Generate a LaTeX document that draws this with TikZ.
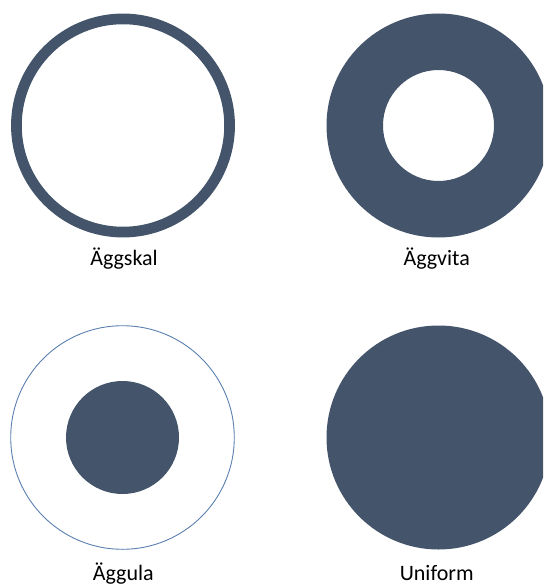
\documentclass[tikz,border=0pt]{standalone}
\usepackage{fontspec}
\setmainfont{Carlito}
\usepackage{tikz}
\usetikzlibrary{positioning}

\definecolor{eggfill}{HTML}{44546A}
\definecolor{eggedge}{HTML}{5B7FAE}

\begin{document}
\begin{tikzpicture}[x=1pt, y=-1pt,
    shape label/.style={anchor=base, font=\fontsize{22}{26}\selectfont, inner sep=0pt}]
  \clip (0,0) rectangle (543,585);
  \useasboundingbox (0,0) rectangle (543,585);
  % shell
  \draw[eggfill, line width=10.7pt] (123,125.5) circle (106.6);
  % white
  \fill[eggfill, even odd rule] (438.5,125.5) circle (112) (438.5,125.5) circle (55.5);
  % yolk
  \draw[eggedge, line width=0.9pt] (122.5,437.5) circle (111.8);
  \fill[eggfill] (122.5,437.5) circle (56.5);
  % uniform
  \fill[eggfill] (438.5,437.5) circle (112);
  \node (skal)    [shape label] at (124,265.7) {Äggskal};
  \node (vita)    [shape label] at (436.7,265.7) {Äggvita};
  \node (gula)    [shape label] at (123.3,580) {Äggula};
  \node (uniform) [shape label] at (436.7,580) {Uniform};
\end{tikzpicture}
\end{document}
